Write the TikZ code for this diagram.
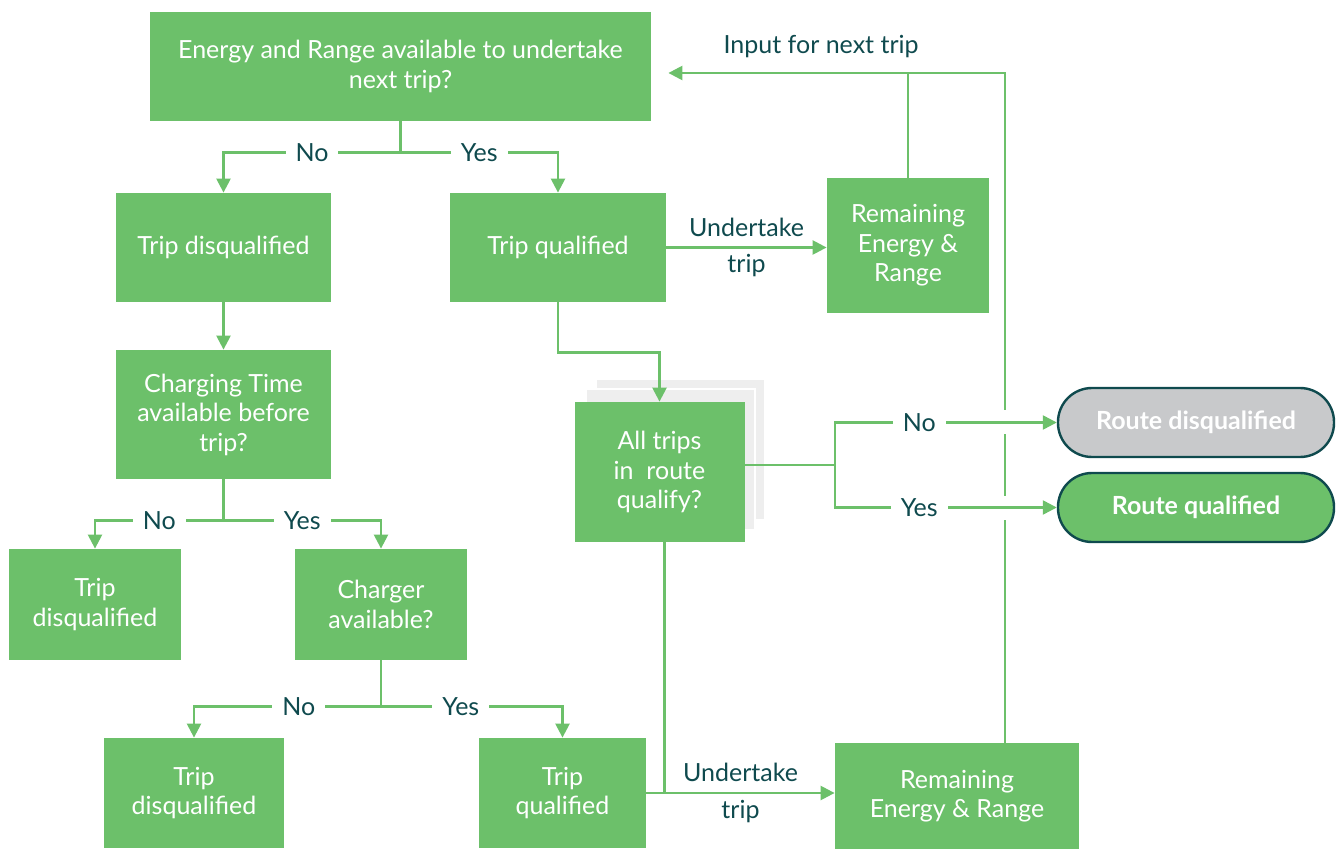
\documentclass[tikz,border=0pt]{standalone}
\usepackage{fontspec}
\setmainfont{Lato}
\usepackage{xcolor}
\definecolor{leaf}{HTML}{6CC06A}
\definecolor{ink}{HTML}{0F4A4E}
\definecolor{stone}{HTML}{C8C9CB}
\definecolor{paper}{HTML}{EEEEEE}
\usetikzlibrary{arrows.meta,positioning,calc}

\begin{document}
\begin{tikzpicture}[
  x=0.5pt, y=-0.5pt,
  box/.style={
    rectangle, fill=leaf, text=white, align=center,
    font=\fontsize{12.5}{14.75}\selectfont, inner sep=3pt
  },
  pill/.style={
    rectangle, rounded corners=17pt, draw=ink, line width=1.2pt,
    align=center, font=\fontsize{12.5}{14.75}\selectfont\bfseries,
    minimum width=138pt, minimum height=34.5pt
  },
  lbl/.style={
    fill=white, text=ink, font=\fontsize{12.5}{14.75}\selectfont,
    inner xsep=5pt, inner ysep=1pt
  },
  line/.style={leaf, line width=1.2pt},
  arr/.style={line, -{Triangle[length=7pt,width=7pt]}},
  gap/.style={white, line width=4pt}
]
\useasboundingbox (0,0) rectangle (1340,850);

% Decision and result boxes
\node[box, minimum width=250.5pt, minimum height=54.5pt] (q1) at (400.5,66.5) {Energy and Range available to undertake\\next trip?};
\node[box, minimum width=107.5pt, minimum height=54.5pt] (dis1) at (223.5,247.5) {Trip disqualified};
\node[box, minimum width=108pt, minimum height=54.5pt] (ok1) at (558,247.5) {Trip qualified};
\node[box, minimum width=81pt, minimum height=67.5pt] (rem1) at (908,245.5) {Remaining\\Energy \&\\Range};
\node[box, minimum width=107.5pt, minimum height=64.5pt] (chg) at (223.5,414.5) {Charging Time\\available before\\trip?};
\node[box, minimum width=86pt, minimum height=55.5pt] (dis2) at (95,604.5) {Trip\\disqualified};
\node[box, minimum width=86pt, minimum height=55.5pt] (chav) at (381,604.5) {Charger\\available?};
\node[box, minimum width=90pt, minimum height=55pt] (dis3) at (194,793) {Trip\\disqualified};
\node[box, minimum width=83.5pt, minimum height=55pt] (ok3) at (562.5,793) {Trip\\qualified};
\node[box, minimum width=122pt, minimum height=53pt] (rem2) at (957,796) {Remaining\\Energy \& Range};

% Stacked route check
\filldraw[paper, draw=white, line width=1pt] (596,379) rectangle (765,520);
\filldraw[paper, draw=white, line width=1pt] (586,389) rectangle (755,530);
\node[box, minimum width=85pt, minimum height=70pt] (all) at (659.5,472) {All trips\\in~ route\\qualify?};

% Route outcomes
\node[pill, fill=stone, text=white] (rdis) at (1196,422.5) {Route disqualified};
\node[pill, fill=leaf, text=white] (rok) at (1196,507.5) {Route qualified};

% No / Yes splits
\foreach \src/\dy/\nn/\yy/\p in {q1/31/dis1/ok1/0.25, chg/41/dis2/chav/0.25, chav/46/dis3/ok3/0.22} {
  \draw[line] (\src.south) -- ++(0,\dy) coordinate (j);
  \draw[arr] (j) -| (\nn.north) node[lbl, pos=\p] {No};
  \draw[arr] (j) -| (\yy.north) node[lbl, pos=\p] {Yes};
}
\draw[arr] (dis1) -- (chg);
\draw[arr] (ok1.south) -- ++(0,50) -| (all.north);

% Undertake trip
\draw[arr] (ok1.east) -- (ok1.east -| rem1.west)
  node[lbl, midway, above=4pt, fill=none] {Undertake}
  node[lbl, midway, below=2pt, fill=none] {trip};
\draw[line] ([xshift=2.5pt]all.south) -- ([xshift=2.5pt]all.south |- ok3.east);
\draw[arr] (ok3.east) -- (ok3.east -| rem2.west)
  node[lbl, midway, above=4pt, fill=none] {Undertake}
  node[lbl, midway, below=2pt, fill=none] {trip};

% Loop back to next trip
\coordinate (up) at (1005,73);
\draw[line] (rem1.north) -- (rem1.north |- up);
\draw[arr, shorten >=8.5pt] (rem2.north -| up) -- (up) -- (q1.east |- up)
  node[lbl, pos=0.52, above=6pt, fill=none] {Input for next trip};
\draw[gap] ($(up |- rdis.west)+(0,-12)$) -- ++(0,24);
\draw[gap] ($(up |- rok.west)+(0,-12)$) -- ++(0,24);

% Route split
\coordinate (split) at (835,465);
\draw[line] (all.east |- split) -- (split);
\draw[arr] (split) |- (rdis.west) node[lbl, pos=0.69] {No};
\draw[arr] (split) |- (rok.west) node[lbl, pos=0.69] {Yes};
\end{tikzpicture}
\end{document}
